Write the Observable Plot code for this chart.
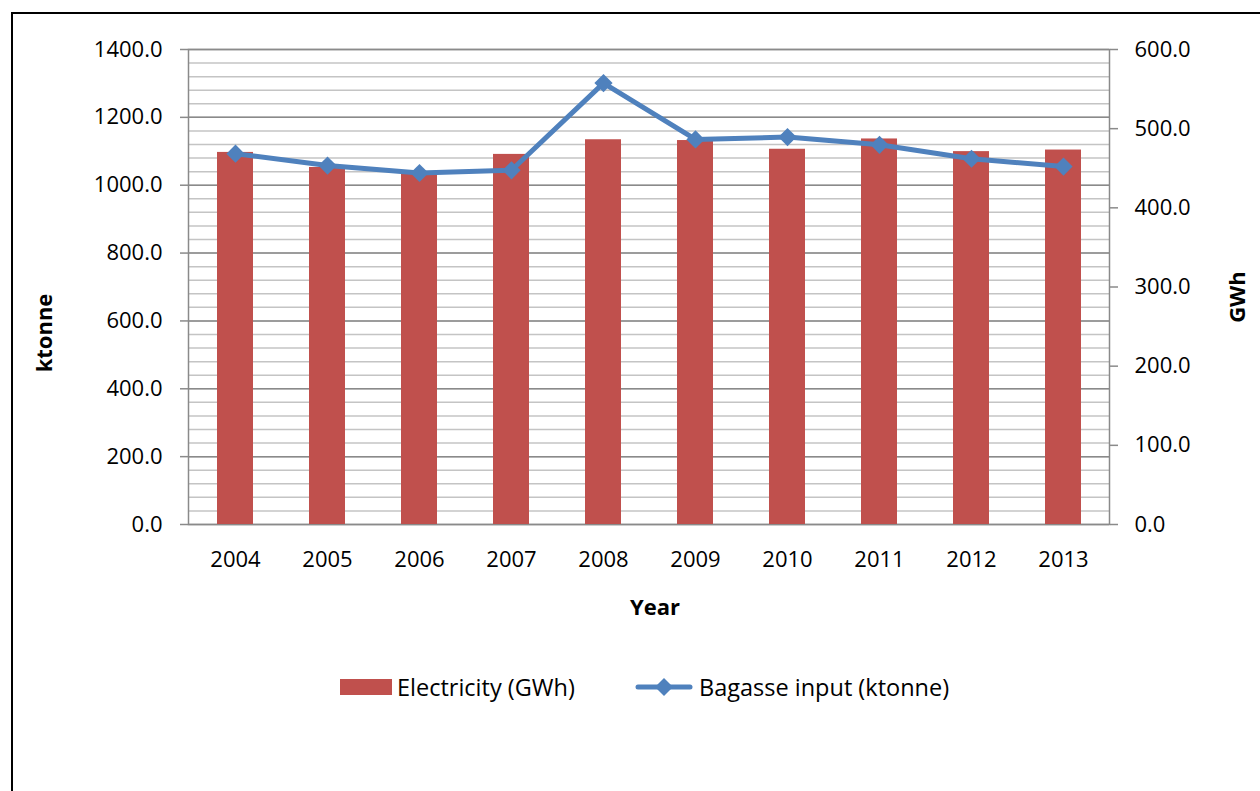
<!DOCTYPE html>
<html>
<head>
<meta charset="utf-8">
<script src="https://cdn.jsdelivr.net/npm/d3@7"></script>
<script src="https://cdn.jsdelivr.net/npm/@observablehq/plot@0.6"></script>
<style>
  html, body { margin: 0; padding: 0; background: #fff; overflow: hidden; }
  body { width: 1260px; height: 791px; position: relative; font-family: "Open Sans", sans-serif; }
  #frame { position: absolute; left: 11px; top: 12px; width: 1300px; height: 900px;
           border-left: 2px solid #000; border-top: 2px solid #000; box-sizing: border-box; }
  #chart { position: absolute; left: 0; top: 0; }
  .legend { position: absolute; top: 672px; height: 30px; display: flex; align-items: center;
            font-size: 23.5px; color: #000; white-space: nowrap; }
  .legend svg { display: block; margin-right: 5px; }
</style>
</head>
<body>
<div id="frame"></div>
<div id="chart"></div>
<div class="legend" style="left:340px">
  <svg width="52" height="16"><rect width="52" height="16" fill="#C0504D"></rect></svg>
  <span>Electricity (GWh)</span>
</div>
<div class="legend" style="left:634px">
  <svg width="60" height="24">
    <line x1="4" y1="12" x2="56" y2="12" stroke="#4F81BD" stroke-width="5" stroke-linecap="round"></line>
    <path d="M30,3 L39,12 L30,21 L21,12 Z" fill="#4F81BD"></path>
  </svg>
  <span>Bagasse input (ktonne)</span>
</div>
<script>
// Years on the category axis
const years = ["2004", "2005", "2006", "2007", "2008", "2009", "2010", "2011", "2012", "2013"];
// Electricity generated from bagasse, GWh (secondary axis)
const electricityGWh = [470, 451, 443, 467.5, 486, 485, 474, 487, 471, 473];
// Bagasse input, ktonne (primary axis)
const bagasseKt = [1093, 1058, 1036, 1044, 1301, 1135, 1142, 1119, 1078, 1055];

// Axis ticks
const leftTicks = [0, 200, 400, 600, 800, 1000, 1200, 1400];
const rightTicks = [0, 100, 200, 300, 400, 500, 600];
const minorLines = d3.range(40, 1400, 40);

// Ratio between the ktonne axis and the GWh axis
const K = 1400 / 600;

const rows = years.map((year, i) => ({year, gwh: electricityGWh[i], kt: bagasseKt[i]}));

const gridMajor = "#8a8a8a";
const gridMinor = "#c4c4c4";

const chart = Plot.plot({
  width: 1260,
  height: 640,
  marginLeft: 188,
  marginRight: 151,
  marginTop: 49,
  marginBottom: 116,
  style: {fontFamily: "'Open Sans', sans-serif", fontSize: "22px", color: "#000", background: "transparent"},
  x: {type: "band", domain: years, paddingInner: 0.61, paddingOuter: 0.305, label: null},
  y: {domain: [0, 1400], label: null},
  marks: [
    Plot.ruleY(minorLines, {stroke: gridMinor, strokeWidth: 1.5}),
    Plot.ruleY(leftTicks, {stroke: gridMajor, strokeWidth: 1.5}),
    Plot.frame({stroke: gridMajor, strokeWidth: 1.5}),
    Plot.barY(rows, {x: "year", y: d => d.gwh * K, fill: "#C0504D"}),
    Plot.line(rows, {x: "year", y: "kt", stroke: "#4F81BD", strokeWidth: 5,
                     strokeLinejoin: "round", strokeLinecap: "round"}),
    Plot.dot(rows, {x: "year", y: "kt", symbol: "diamond2", r: 8.2, fill: "#4F81BD", stroke: null}),
    Plot.axisY(leftTicks, {anchor: "left", tickSize: 8, tickPadding: 18, stroke: gridMajor, strokeWidth: 1.5,
                           tickFormat: d => d.toFixed(1), label: null}),
    Plot.axisY(rightTicks.map(v => v * K), {anchor: "right", tickSize: 8, tickPadding: 17, stroke: gridMajor, strokeWidth: 1.5,
                           tickFormat: d => (d / K).toFixed(1), label: null}),
    Plot.axisX({anchor: "bottom", tickSize: 0, tickPadding: 27, label: null}),
    Plot.text(["ktonne"], {frameAnchor: "left", dx: -144, dy: 46, rotate: -90, fontWeight: "bold",
                           lineAnchor: "middle", textAnchor: "middle"}),
    Plot.text(["GWh"], {frameAnchor: "right", dx: 128, dy: 10, rotate: -90, fontWeight: "bold",
                        lineAnchor: "middle", textAnchor: "middle"}),
    Plot.text(["Year"], {frameAnchor: "bottom", dx: 6, dy: 83, fontWeight: "bold",
                         lineAnchor: "middle", textAnchor: "middle"})
  ]
});
document.getElementById("chart").appendChild(chart);
</script>
</body>
</html>
